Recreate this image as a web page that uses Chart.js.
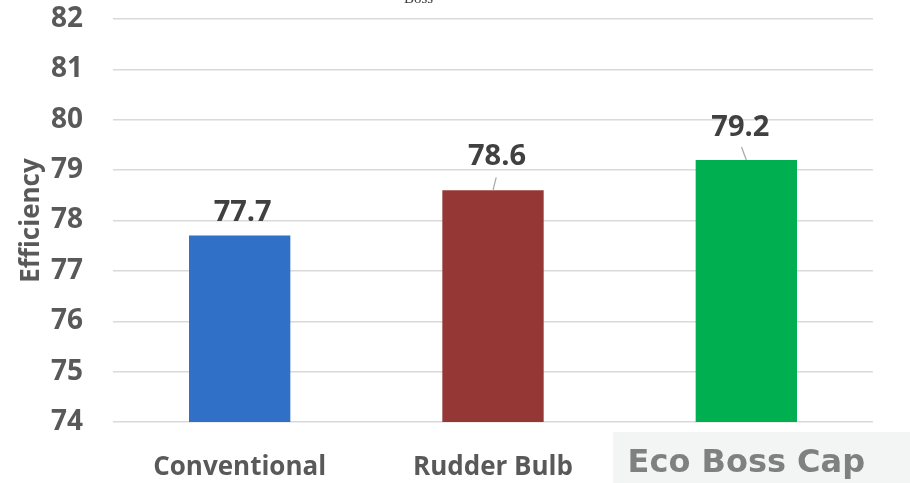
<!DOCTYPE html>
<html>
<head>
<meta charset="utf-8">
<script src="https://cdn.jsdelivr.net/npm/chart.js@4"></script>
<style>
  html, body { margin: 0; padding: 0; background: #fff; }
  #wrap { width: 910px; height: 483px; position: relative; }
</style>
</head>
<body>
<div id="wrap"><canvas id="effChart"></canvas></div>
<script>
const categories = ["Conventional", "Rudder Bulb", "Eco Boss Cap"];
const efficiency = [77.7, 78.6, 79.2];
const barColors = ["#3070c6", "#953735", "#00b050"];
const yMin = 74;
const yMax = 82;

// label nudges (dx, dy above bar top) and whether a leader line is drawn
const labelNudge = [
  { dx: 3, dy: 23, leader: false },
  { dx: 4, dy: 34, leader: true },
  { dx: -6, dy: 32, leader: true },
];

const valueLabels = {
  id: "valueLabels",
  beforeDraw(chart) {
    // light panel behind the last category name
    const c = chart.ctx;
    c.save();
    c.fillStyle = "#f3f4f4";
    c.fillRect(613, 432, 297, 51);
    c.restore();
  },
  afterDatasetsDraw(chart) {
    const c = chart.ctx;
    const meta = chart.getDatasetMeta(0);
    c.save();
    meta.data.forEach((bar, i) => {
      const n = labelNudge[i];
      const lx = bar.x + n.dx;
      const ly = bar.y - n.dy;
      if (n.leader) {
        c.strokeStyle = "#a6a6a6";
        c.lineWidth = 1.2;
        c.beginPath();
        c.moveTo(bar.x, bar.y);
        c.lineTo(bar.x + n.dx * 0.8, bar.y - 13);
        c.stroke();
      }
      c.fillStyle = "#404040";
      c.font = "bold 29px 'Open Sans', sans-serif";
      c.textAlign = "center";
      c.textBaseline = "middle";
      c.fillText(efficiency[i].toFixed(1), lx, ly);
    });
    // stray subscript left at the top edge
    c.fillStyle = "#404040";
    c.font = "15px 'Liberation Serif', serif";
    c.textAlign = "left";
    c.textBaseline = "middle";
    c.fillText("Boss", 404, -1);
    c.restore();
  },
};

new Chart(document.getElementById("effChart"), {
  type: "bar",
  data: {
    labels: categories,
    datasets: [
      {
        data: efficiency,
        backgroundColor: barColors,
        barPercentage: 0.4,
        categoryPercentage: 1.0,
      },
    ],
  },
  options: {
    responsive: true,
    maintainAspectRatio: false,
    animation: false,
    layout: { padding: { top: 19, right: 37, left: 0, bottom: 0 } },
    plugins: { legend: { display: false }, tooltip: { enabled: false } },
    scales: {
      x: {
        grid: { display: false },
        border: { display: false },
        ticks: {
          padding: 22,
          color: (ctx) => (ctx.index === 2 ? "#808080" : "#595959"),
          font: (ctx) =>
            ctx.index === 2
              ? { family: "'DejaVu Sans'", weight: "bold", size: 32, lineHeight: 0.7 }
              : { family: "'Open Sans'", weight: "bold", size: 26 },
        },
        afterFit(scale) {
          scale.height = 61;
        },
      },
      y: {
        min: yMin,
        max: yMax,
        border: { display: false },
        grid: { color: "#d9d9d9", lineWidth: 1.5, drawTicks: false },
        ticks: {
          stepSize: 1,
          padding: 30,
          color: "#595959",
          font: { family: "'Open Sans'", weight: "bold", size: 28 },
        },
        title: {
          display: true,
          text: "Efficiency",
          color: "#595959",
          font: { family: "'Open Sans'", weight: "bold", size: 26 },
          padding: { top: 16, bottom: 0 },
        },
        afterFit(scale) {
          scale.width = 113;
          scale.paddingTop = 0;
          scale.paddingBottom = 0;
        },
      },
    },
  },
  plugins: [valueLabels],
});
</script>
</body>
</html>
